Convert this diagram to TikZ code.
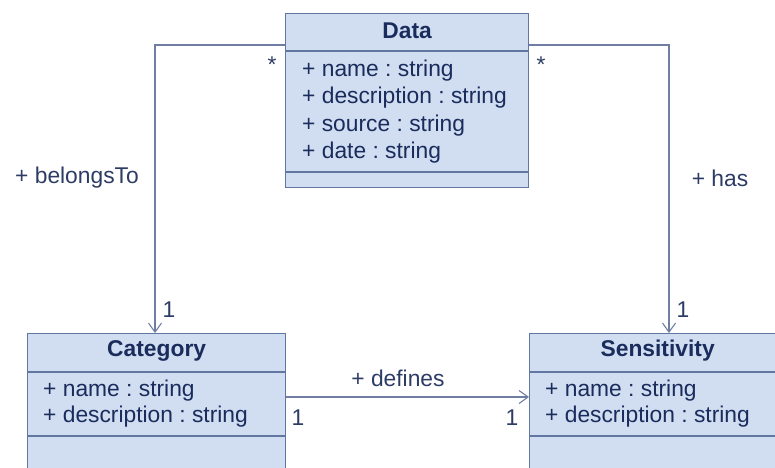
\documentclass[tikz,border=0pt]{standalone}
\usepackage{fontspec}
\setmainfont{Liberation Sans}
\usetikzlibrary{arrows.meta}
\frenchspacing
\definecolor{boxfill}{RGB}{209,221,240}
\definecolor{boxline}{RGB}{98,118,162}
\definecolor{txt}{RGB}{25,44,92}
\definecolor{conn}{RGB}{112,126,164}
\definecolor{lbl}{RGB}{45,60,100}
\begin{document}
\frenchspacing
\begin{tikzpicture}[x=1pt,y=-1pt,
  font=\fontsize{22.8}{27}\selectfont,
  classbox/.style={draw=boxline,line width=1.3pt,fill=boxfill,inner sep=0pt,anchor=north west},
  sepline/.style={draw=boxline,line width=1.3pt},
  title/.style={text=txt,font=\fontsize{22.8}{27}\selectfont\bfseries},
  attr/.style={text=txt,anchor=west,inner sep=0pt},
  lab/.style={text=lbl,inner sep=0pt},
  assoc/.style={draw=conn,line width=1.1pt,-{Straight Barb[length=9pt,width=13pt,line width=1.1pt]}},
  line/.style={draw=conn,line width=1.1pt}]
\useasboundingbox (0,0) rectangle (775,467);
\clip (0,0) rectangle (775,467);
% Data
\node[classbox,minimum width=243pt,minimum height=174pt] (data) at (285,13) {};
\draw[sepline] (data.west |- 0,51) -- (data.east |- 0,51);
\draw[sepline] (data.west |- 0,172) -- (data.east |- 0,172);
\node[title] (dataT) at (data.north |- 0,31) {Data};
\node[attr] (d1) at (302,71) {+ name : string};
\node[attr] (d2) at (302,98) {+ description : string};
\node[attr] (d3) at (302,126) {+ source : string};
\node[attr] (d4) at (302,153) {+ date : string};
% Category
\node[classbox,minimum width=258pt,minimum height=160pt] (cat) at (27,333) {};
\draw[sepline] (cat.west |- 0,372) -- (cat.east |- 0,372);
\draw[sepline] (cat.west |- 0,436) -- (cat.east |- 0,436);
\node[title] (catT) at (cat.north |- 0,351) {Category};
\node[attr] (c1) at (43,391) {+ name : string};
\node[attr] (c2) at (43,417) {+ description : string};
% Sensitivity
\node[classbox,minimum width=256pt,minimum height=160pt] (sen) at (529,333) {};
\draw[sepline] (sen.west |- 0,372) -- (sen.east |- 0,372);
\draw[sepline] (sen.west |- 0,436) -- (sen.east |- 0,436);
\node[title] (senT) at (sen.north |- 0,351) {Sensitivity};
\node[attr] (s1) at (545,391) {+ name : string};
\node[attr] (s2) at (545,417) {+ description : string};
% connectors
\coordinate (dL) at (data.west |- 0,45);
\coordinate (dR) at (data.east |- 0,45);
\coordinate (cTop) at (155,333);
\coordinate (sTop) at (669,333);
\coordinate (cR) at (cat.east |- 0,397);
\coordinate (sL) at (sen.west |- 0,397);
\draw[assoc] (dL) -| (cTop);
\draw[assoc] (dR) -| (sTop);
\draw[assoc] (cR) -- (sL);
% labels
\node[lab,anchor=base] (st1) at (272,72) {*};
\node[lab,anchor=base] (st2) at (541,72) {*};
\node[lab] (m1) at (169,310) {1};
\node[lab] (m2) at (683,310) {1};
\node[lab] (m3) at (298,418) {1};
\node[lab] (m4) at (512,418) {1};
\node[lab] (belongs) at (77,178) {+ belongsTo};
\node[lab] (has) at (720,178) {+ has};
\node[lab] (defines) at (398,378) {+ defines};
\end{tikzpicture}
\end{document}
